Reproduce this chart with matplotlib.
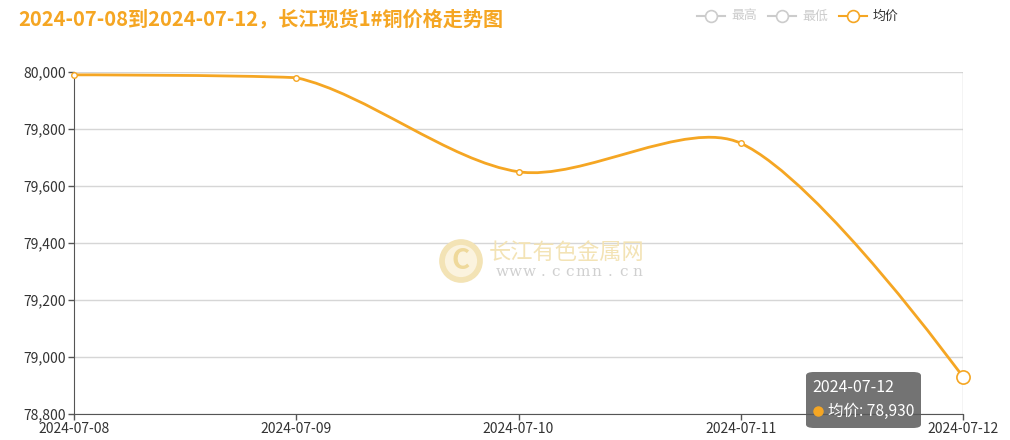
import matplotlib
matplotlib.use("Agg")
import matplotlib.pyplot as plt
import numpy as np
from matplotlib.path import Path
from matplotlib.patches import PathPatch, FancyBboxPatch, Circle
from matplotlib.lines import Line2D
from matplotlib.ticker import FuncFormatter

plt.rcParams['font.family'] = ['Noto Sans CJK SC', 'DejaVu Sans']

dates = ["2024-07-08", "2024-07-09", "2024-07-10", "2024-07-11", "2024-07-12"]
avg_price = [79990, 79980, 79650, 79750, 78930]
legend_names = ["最高", "最低", "均价"]
y_ticks = [78800, 79000, 79200, 79400, 79600, 79800, 80000]

ORANGE = "#F5A623"
GRID = "#D6D6D6"

fig = plt.figure(figsize=(10.1, 4.4), dpi=100)
ax = fig.add_axes([74 / 1010, 1 - 414 / 440, (963 - 74) / 1010, (414 - 72) / 440])

x = np.arange(len(dates))
ax.set_xlim(0, len(dates) - 1)
ax.set_ylim(78800, 80000)


def smooth_path(ax, xs, ys, smooth=0.3):
    # bezier smoothing like the web chart, done in pixel space
    pts = ax.transData.transform(np.column_stack([xs, ys]))
    lo = pts.min(axis=0)
    hi = pts.max(axis=0)
    verts = [pts[0]]
    codes = [Path.MOVETO]
    cp0 = pts[0].copy()
    n = len(pts)
    for i in range(1, n):
        p = pts[i]
        prev = pts[i - 1]
        ratio = 0.5
        v = np.zeros(2)
        if i == n - 1:
            cp1 = p.copy()
        else:
            nxt = pts[i + 1]
            v = nxt - prev
            lp = np.hypot(*(p - prev))
            ln = np.hypot(*(p - nxt))
            ratio = ln / (ln + lp)
            cp1 = p - v * smooth * (1 - ratio)
        verts += [np.clip(cp0, lo, hi), np.clip(cp1, lo, hi), p]
        codes += [Path.CURVE4] * 3
        cp0 = p + v * smooth * ratio
    verts = ax.transData.inverted().transform(np.array(verts))
    return Path(verts, codes)


ax.add_patch(PathPatch(smooth_path(ax, x, avg_price), facecolor="none",
                       edgecolor=ORANGE, lw=2, zorder=3))
ax.plot(x[:-1], avg_price[:-1], "o", ms=4, mfc="white", mec=ORANGE, mew=1,
        zorder=4, clip_on=False)
ax.plot(x[-1], avg_price[-1], "o", ms=9.5, mfc="white", mec=ORANGE, mew=1.2,
        zorder=4, clip_on=False)

# axis pointer line at hovered point
ax.axvline(x[-1], color="#C8C8C8", lw=1, zorder=1)

ax.set_xticks(x)
ax.set_xticklabels(dates)
ax.set_yticks(y_ticks)
ax.yaxis.set_major_formatter(FuncFormatter(lambda v, p: f"{int(v):,}"))
ax.grid(axis="y", color=GRID, lw=1)
ax.set_axisbelow(True)
for s in ["top", "right"]:
    ax.spines[s].set_visible(False)
ax.spines["left"].set_color("#555555")
ax.spines["bottom"].set_color("#555555")
ax.tick_params(axis="both", colors="#555555", labelcolor="#333333",
               labelsize=10, length=4, width=1)
ax.tick_params(axis="x", pad=2)
ax.tick_params(axis="y", pad=2)

# title
fig.text(18 / 1010, 1 - 19 / 440, "2024-07-08到2024-07-12，长江现货1#铜价格走势图",
         color=ORANGE, fontsize=14.5, fontweight="bold", va="center", ha="left")

# legend
legend_x = [697, 768, 839]
for name, lx in zip(legend_names, legend_x):
    col = ORANGE if name == "均价" else "#CCCCCC"
    tcol = "#333333" if name == "均价" else "#CCCCCC"
    yy = 1 - 16 / 440
    fig.add_artist(Line2D([lx / 1010, (lx + 28) / 1010], [yy, yy], color=col, lw=1.5))
    fig.add_artist(Line2D([(lx + 14) / 1010], [yy], marker="o", ms=8.5, mfc="white",
                          mec=col, mew=1.2))
    fig.text((lx + 34) / 1010, yy, name, color=tcol, fontsize=9.3, va="center")

# watermark
wm = fig.add_axes([438 / 1010, 1 - 284 / 440, 46 / 1010, 46 / 440])
wm.set_xlim(-1, 1)
wm.set_ylim(-1, 1)
wm.set_aspect("equal")
wm.axis("off")
wm.add_patch(Circle((0, 0), 0.95, color="#F3E3B5", lw=0))
wm.add_patch(Circle((0, 0), 0.7, color="#FBF3DE", lw=0))
wm.text(0, -0.02, "C", color="#EFD99B", fontsize=20, fontweight="bold",
        ha="center", va="center")
fig.text(489 / 1010, 1 - 252 / 440, "长江有色金属网", color="#F3E3B5", fontsize=16,
         va="center")
for k, ch in enumerate("www.ccmn.cn"):
    fig.text((502 + k * 13.5) / 1010, 1 - 272 / 440, ch, color="#D0D0D0",
             fontsize=11, va="center", ha="center", family="DejaVu Serif")

# tooltip
tip = FancyBboxPatch((806 / 1010, 1 - 428 / 440), 115 / 1010, 56 / 440,
                     boxstyle="round,pad=0,rounding_size=0.008",
                     transform=fig.transFigure, facecolor="#5A5A5A", alpha=0.85,
                     edgecolor="none", zorder=10)
fig.add_artist(tip)
fig.text(812 / 1010, 1 - 387 / 440, dates[-1], color="white", fontsize=11.5,
         va="center", zorder=11)
fig.add_artist(Line2D([818 / 1010], [1 - 411 / 440], marker="o", ms=6.5,
                      color=ORANGE, zorder=11))
fig.text(828 / 1010, 1 - 411 / 440, f"均价: {avg_price[-1]:,}", color="white",
         fontsize=11.2, va="center", zorder=11)

fig.savefig("out.png", dpi=100)
